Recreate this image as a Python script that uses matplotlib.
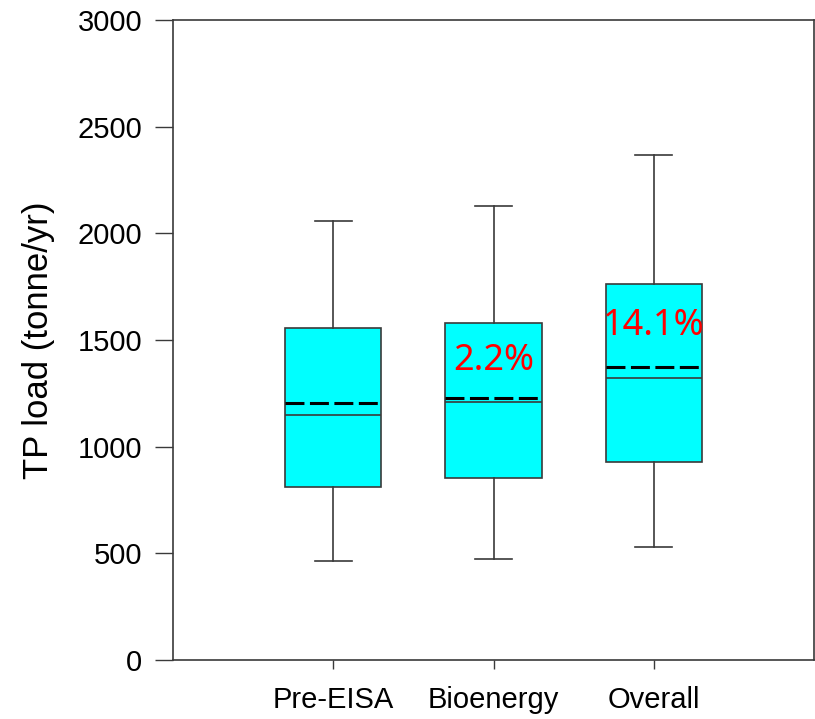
import matplotlib
matplotlib.use('Agg')
import matplotlib.pyplot as plt

# box statistics (tonne/yr)
groups = ['Pre-EISA', 'Bioenergy', 'Overall']
whislo = [465, 475, 530]
q1 = [812, 852, 928]
med = [1147, 1209, 1320]
mean = [1205, 1230, 1373]
q3 = [1558, 1580, 1761]
whishi = [2059, 2128, 2367]
change_labels = ['', '2.2%', '14.1%']
label_y = [None, 1360, 1523]

plt.rcParams['font.family'] = ['Liberation Sans', 'DejaVu Sans']

fig = plt.figure(figsize=(8.15, 7.19), dpi=100)
ax = fig.add_axes([0.2123, 0.0821, 0.7865, 0.890])

stats = []
for i, g in enumerate(groups):
    stats.append(dict(label=g, whislo=whislo[i], q1=q1[i], med=med[i],
                      mean=mean[i], q3=q3[i], whishi=whishi[i], fliers=[]))

pos = [1, 2, 3]
edge = '#3a3a3a'
ax.bxp(stats, positions=pos, widths=0.6, patch_artist=True,
       showmeans=True, meanline=True, showfliers=False,
       boxprops=dict(facecolor='#00ffff', edgecolor=edge, linewidth=1.2),
       medianprops=dict(color=edge, linewidth=1.2),
       whiskerprops=dict(color=edge, linewidth=1.2),
       capprops=dict(color=edge, linewidth=1.2),
       capwidths=0.23,
       meanprops=dict(color='black', linestyle=(0, (6.2, 1.8)), linewidth=2.2))

for p, txt, yy in zip(pos, change_labels, label_y):
    if txt:
        ax.text(p, yy, txt, color='red', fontsize=26, ha='center', va='baseline',
                family=['Noto Sans', 'DejaVu Sans'])

ax.set_xlim(0, 4)
ax.set_ylim(0, 3000)
ax.set_yticks(range(0, 3001, 500))
ax.set_xticks(pos)
ax.set_xticklabels(groups)
ax.tick_params(axis='y', length=13, width=1, color=edge, labelsize=21, pad=9)
ax.tick_params(axis='x', length=6.5, width=1, color=edge, labelsize=21, pad=12)
for s in ax.spines.values():
    s.set_color(edge)
    s.set_linewidth(1.2)
ax.set_ylabel('TP load (tonne/yr)', fontsize=25, labelpad=16)

fig.savefig('out.png', dpi=100)
